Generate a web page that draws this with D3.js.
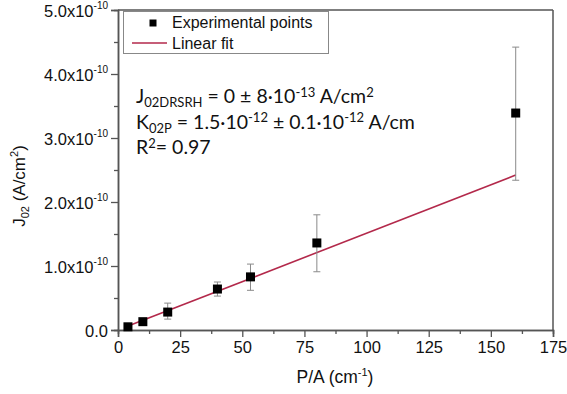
<!DOCTYPE html>
<html><head><meta charset="utf-8">
<script src="https://cdn.jsdelivr.net/npm/d3@7"></script>
<style>
html,body{margin:0;padding:0;background:#fff;}
svg{display:block;}
text{font-family:"Liberation Sans",Arial,sans-serif;fill:#111;}
</style></head>
<body>
<svg id="c" width="567" height="394"></svg>
<script>
// Data (J02 in units of 1e-10 A/cm^2)
const pa = [4, 10, 20, 40, 53.3, 80, 160];
const j02 = [0.05, 0.13, 0.28, 0.64, 0.83, 1.36, 3.39];
const errLow = [0.03, 0.10, 0.17, 0.53, 0.62, 0.91, 2.34];
const errHigh = [0.07, 0.17, 0.42, 0.75, 1.03, 1.80, 4.42];
const fitX = [3, 160];
const fitY = [0.045, 2.42];
const xTicks = [0, 25, 50, 75, 100, 125, 150, 175];
const yTicks = [0, 1, 2, 3, 4, 5];
const yTickLabels = ["0.0", "1.0x10", "2.0x10", "3.0x10", "4.0x10", "5.0x10"];
const yTickExp = "-10";

const L = 118, R = 553, T = 10, B = 330;
const svg = d3.select("#c");
const x = d3.scaleLinear().domain([0, 175]).range([L, R]);
const y = d3.scaleLinear().domain([0, 5]).range([B, T]);

const axisCol = "#555";

// frame top & right
svg.append("line").attr("x1", L).attr("x2", R).attr("y1", T).attr("y2", T)
  .attr("stroke", axisCol).attr("stroke-width", 1.5);
svg.append("line").attr("x1", R).attr("x2", R).attr("y1", T).attr("y2", B)
  .attr("stroke", axisCol).attr("stroke-width", 1.5);

// minor ticks
const xMinor = d3.range(12.5, 175, 25);
const yMinor = d3.range(0.5, 5, 1);
const gx = svg.append("g").attr("transform", `translate(0,${B})`);
gx.call(d3.axisBottom(x).tickValues(xMinor).tickSize(4).tickFormat(""));
const gx2 = svg.append("g").attr("transform", `translate(0,${B})`);
gx2.call(d3.axisBottom(x).tickValues(xTicks).tickSize(7).tickPadding(4).tickFormat(d3.format("d")));
const gy = svg.append("g").attr("transform", `translate(${L},0)`);
gy.call(d3.axisLeft(y).tickValues(yMinor).tickSize(4).tickFormat(""));
const gy2 = svg.append("g").attr("transform", `translate(${L},0)`);
gy2.call(d3.axisLeft(y).tickValues(yTicks).tickSize(7).tickPadding(3).tickFormat((d, i) => yTickLabels[i]));

[gx, gx2, gy, gy2].forEach(g => {
  g.select(".domain").attr("stroke", axisCol).attr("stroke-width", 1.5);
  g.selectAll(".tick line").attr("stroke", axisCol).attr("stroke-width", 1.3);
});
gx2.selectAll(".tick text").attr("font-size", 16.5).attr("fill", "#111")
  .attr("font-family", "Liberation Sans, Arial, sans-serif");
gy2.selectAll(".tick text").attr("font-size", 16.5).attr("fill", "#111")
  .attr("font-family", "Liberation Sans, Arial, sans-serif")
  .attr("dy", "0.38em")
  .each(function(d, i) {
    const t = d3.select(this);
    if (d === 0) return;
    t.text(null);
    t.append("tspan").text(yTickLabels[i]);
    t.append("tspan").attr("font-size", 10).attr("dy", -8).text(yTickExp);
  });

// fit line
svg.append("line")
  .attr("x1", x(fitX[0])).attr("y1", y(fitY[0]))
  .attr("x2", x(fitX[1])).attr("y2", y(fitY[1]))
  .attr("stroke", "#b3294b").attr("stroke-width", 1.6);

// error bars
const eb = svg.append("g").attr("stroke", "#8a8a8a").attr("stroke-width", 1);
pa.forEach((v, i) => {
  eb.append("line").attr("x1", x(v)).attr("x2", x(v)).attr("y1", y(errLow[i])).attr("y2", y(errHigh[i]));
  [errLow[i], errHigh[i]].forEach(e => {
    eb.append("line").attr("x1", x(v) - 3.5).attr("x2", x(v) + 3.5).attr("y1", y(e)).attr("y2", y(e));
  });
});

// points
svg.append("g").selectAll("rect").data(pa).join("rect")
  .attr("x", (d) => x(d) - 4.5).attr("y", (d, i) => y(j02[i]) - 4.5)
  .attr("width", 9).attr("height", 9).attr("fill", "#000");

// legend
svg.append("rect").attr("x", 123.5).attr("y", 11.5).attr("width", 205).attr("height", 42)
  .attr("fill", "#fff").attr("stroke", "#888").attr("stroke-width", 1);
svg.append("rect").attr("x", 149.5).attr("y", 19.5).attr("width", 7).attr("height", 7).attr("fill", "#000");
svg.append("text").attr("x", 172).attr("y", 28).attr("font-size", 16).text("Experimental points");
svg.append("line").attr("x1", 132).attr("x2", 167).attr("y1", 43).attr("y2", 43)
  .attr("stroke", "#b3294b").attr("stroke-width", 1.5);
svg.append("text").attr("x", 172).attr("y", 49).attr("font-size", 16).text("Linear fit");

// annotation
const ann = svg.append("g");
function annLine(yb, parts) {
  const t = ann.append("text").attr("x", 136).attr("y", yb).attr("font-size", 19.5)
    .style("font-family", "Lato, 'Open Sans', sans-serif");
  let cur = 0;
  parts.forEach(p => {
    const shift = p.sub ? 4 : p.sup ? -6.5 : 0;
    t.append("tspan").attr("dy", shift - cur).attr("font-size", p.sub || p.sup ? 13 : 19.5).text(p.t);
    cur = shift;
  });
}
annLine(103, [{t: "J"}, {t: "02DRSRH", sub: true}, {t: " = 0 ± 8·10"}, {t: "-13", sup: true}, {t: " A/cm"}, {t: "2", sup: true}]);
annLine(128.5, [{t: "K"}, {t: "02P", sub: true}, {t: " = 1.5·10"}, {t: "-12", sup: true}, {t: " ± 0.1·10"}, {t: "-12", sup: true}, {t: " A/cm"}]);
annLine(154, [{t: "R"}, {t: "2", sup: true}, {t: "= 0.97"}]);

// axis titles
const yt = svg.append("text").attr("transform", "translate(25,186) rotate(-90)")
  .attr("text-anchor", "middle").attr("font-size", 17);
yt.append("tspan").text("J");
yt.append("tspan").attr("font-size", 11).attr("dy", 4).text("02");
yt.append("tspan").attr("dy", -4).text(" (A/cm");
yt.append("tspan").attr("font-size", 11).attr("dy", -7).text("2");
yt.append("tspan").attr("dy", 7).text(")");

const xt = svg.append("text").attr("x", 335).attr("y", 383)
  .attr("text-anchor", "middle").attr("font-size", 17.5);
xt.append("tspan").text("P/A (cm");
xt.append("tspan").attr("font-size", 11).attr("dy", -7).text("-1");
xt.append("tspan").attr("dy", 7).text(")");
</script>
</body></html>
